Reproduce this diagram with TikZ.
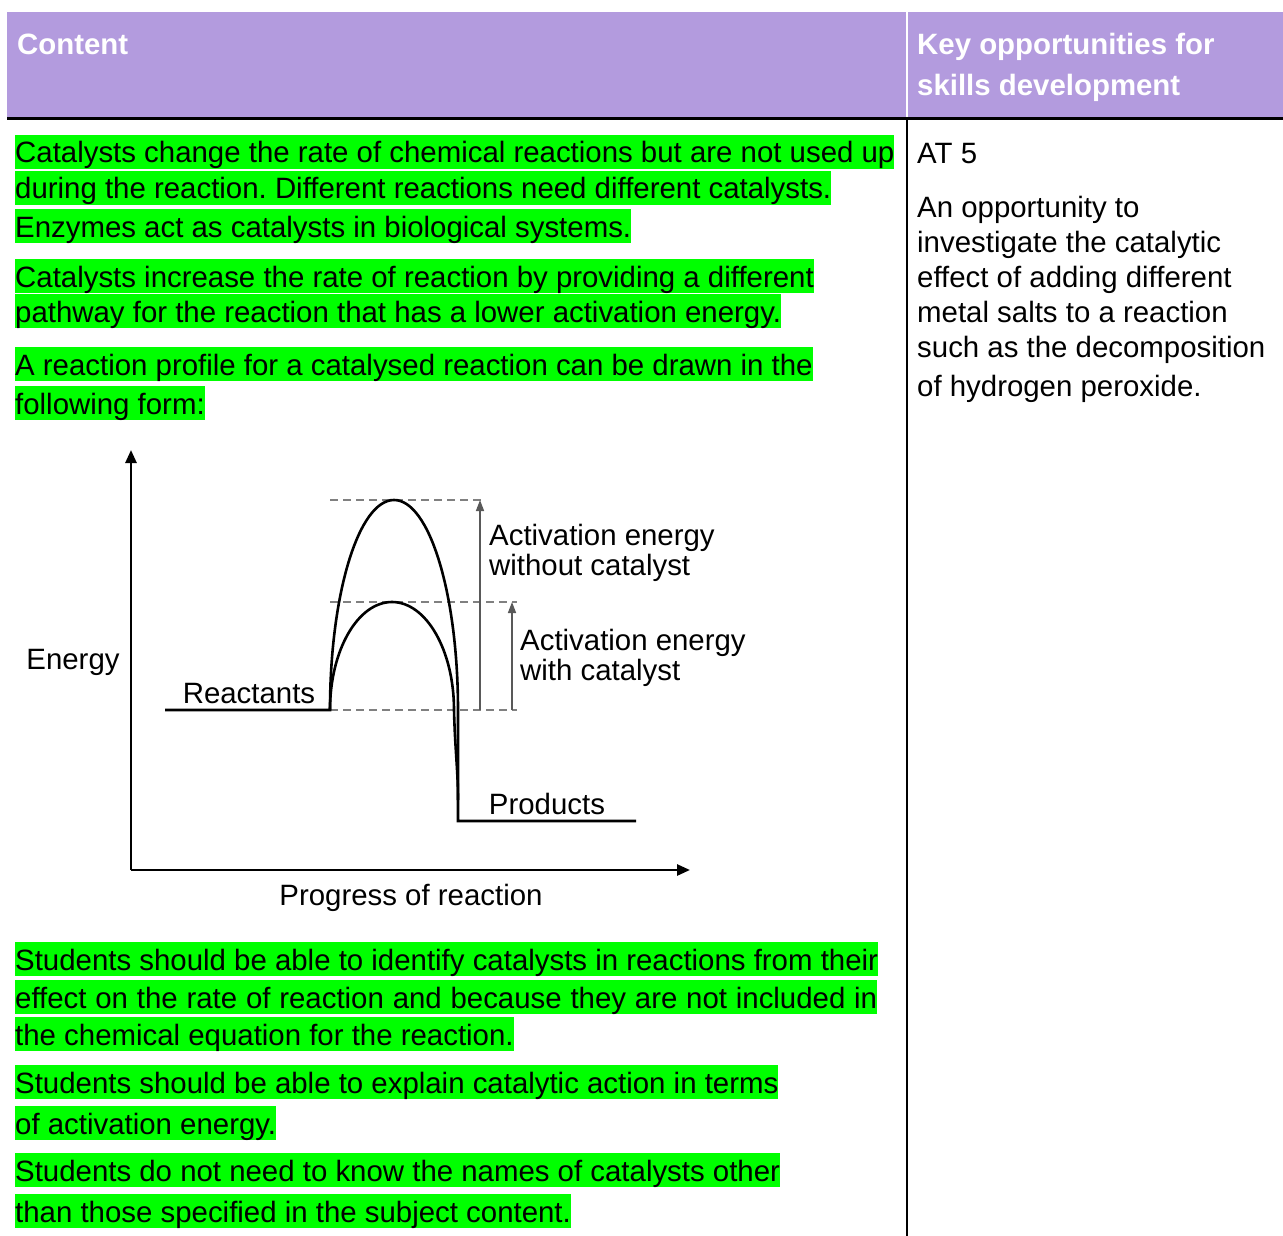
\documentclass[tikz,border=0pt]{standalone}
\usepackage{fontspec}
\setmainfont{Liberation Sans}
\usetikzlibrary{arrows.meta}
\definecolor{headpurple}{RGB}{179,155,222}
\definecolor{hlgreen}{RGB}{0,255,0}
\newcommand{\bodyfont}{\fontsize{29.4}{35}\selectfont\frenchspacing}

\tikzset{
  hl/.style={fill=hlgreen, inner sep=0pt, anchor=base west, text height=28pt, text depth=6pt, font=\bodyfont},
  plain/.style={inner sep=0pt, anchor=base west, font=\bodyfont},
  head/.style={inner sep=0pt, anchor=base west, text=white, font=\bodyfont\bfseries},
  axis/.style={line width=2.6pt, -{Triangle[length=13pt,width=11pt]}},
  profile/.style={line width=2.6pt},
  guide/.style={gray, line width=1.2pt, dash pattern=on 8pt off 5pt},
  gap/.style={gray!70!black, line width=1.5pt, -{Triangle[length=11pt,width=8pt]}}
}

\begin{document}
\begin{tikzpicture}[x=1pt, y=-1pt]
    \useasboundingbox (0,0) rectangle (1283,1236);

    % table header
    \fill[headpurple] (7,12) rectangle (1283,117);
    \draw[white, line width=2pt] (907,12) -- (907,117);
    \draw[black, line width=3pt] (7,118.5) -- (1283,118.5);
    \draw[black, line width=2pt] (907,120) -- (907,1236);
    \node[head] (h_content) at (17,55) {Content};
    \node[head] (h_key1) at (917,55) {Key opportunities for};
    \node[head] (h_key2) at (917,96) {skills development};

    % content column
    \node[hl] (c_1) at (15,163) {Catalysts change the rate of chemical reactions but are not used up};
    \node[hl] (c_2) at (15,199) {during the reaction. Different reactions need different catalysts.};
    \node[hl] (c_3) at (15,237) {Enzymes act as catalysts in biological systems.};
    \node[hl] (c_4) at (15,287) {Catalysts increase the rate of reaction by providing a different};
    \node[hl] (c_5) at (15,322) {pathway for the reaction that has a lower activation energy.};
    \node[hl] (c_6) at (15,375) {A reaction profile for a catalysed reaction can be drawn in the};
    \node[hl] (c_7) at (15,414) {following form:};
    \node[hl] (c_8) at (15,970) {Students should be able to identify catalysts in reactions from their};
    \node[hl] (c_9) at (15,1008) {\makebox[862pt][s]{effect on the rate of reaction and because they are not included in}};
    \node[hl] (c_10) at (15,1045) {the chemical equation for the reaction.};
    \node[hl] (c_11) at (15,1093) {Students should be able to explain catalytic action in terms};
    \node[hl] (c_12) at (15,1134) {of activation energy.};
    \node[hl] (c_13) at (15,1181) {Students do not need to know the names of catalysts other};
    \node[hl] (c_14) at (15,1222) {than those specified in the subject content.};

    % skills column
    \node[plain] (k_at) at (917,164) {AT 5};
    \node[plain] (k_1) at (917,217) {An opportunity to};
    \node[plain] (k_2) at (917,252) {investigate the catalytic};
    \node[plain] (k_3) at (917,287) {effect of adding different};
    \node[plain] (k_4) at (917,322) {metal salts to a reaction};
    \node[plain] (k_5) at (917,357) {such as the decomposition};
    \node[plain] (k_6) at (917,396) {of hydrogen peroxide.};

    % reaction profile
    \coordinate (origin) at (131,870);
    \coordinate (ytip) at (131,450);
    \coordinate (xtip) at (690,870);
    \coordinate (r_start) at (165,710);
    \coordinate (r_end) at (330,710);
    \coordinate (drop) at (458,710);
    \coordinate (p_start) at (458,821);
    \coordinate (p_end) at (636,821);

    \draw[axis] (origin) -- (ytip);
    \draw[axis] (origin) -- (xtip);

    \draw[guide] (r_end) -- (517,710);
    \draw[guide] (330,602) -- (517,602);
    \draw[guide] (330,500) -- (485,500);
    \draw[gap] (480,710) -- (480,500);
    \draw[gap] (512,710) -- (512,602);

    % without catalyst
    \draw[profile] (r_start) -- (r_end)
        arc[start angle=180, end angle=0, x radius=64pt, y radius=210pt]
        -- (p_start) -- (p_end);
    % with catalyst
    \draw[profile] (r_end)
        arc[start angle=180, end angle=0, x radius=62pt, y radius=108pt]
        .. controls (455,750) and (458,770) .. (458,800);

    \node[plain, anchor=base] (l_energy) at (73,669) {Energy};
    \node[plain, anchor=base] (l_react) at (249,703) {Reactants};
    \node[plain, anchor=base] (l_prod) at (547,814) {Products};
    \node[plain, anchor=base] (l_prog) at (411,905) {Progress of reaction};
    \node[plain] (l_ea1) at (489,545) {Activation energy};
    \node[plain] (l_ea1b) at (489,575) {without catalyst};
    \node[plain] (l_ea2) at (520,650) {Activation energy};
    \node[plain] (l_ea2b) at (520,680) {with catalyst};
\end{tikzpicture}
\end{document}
